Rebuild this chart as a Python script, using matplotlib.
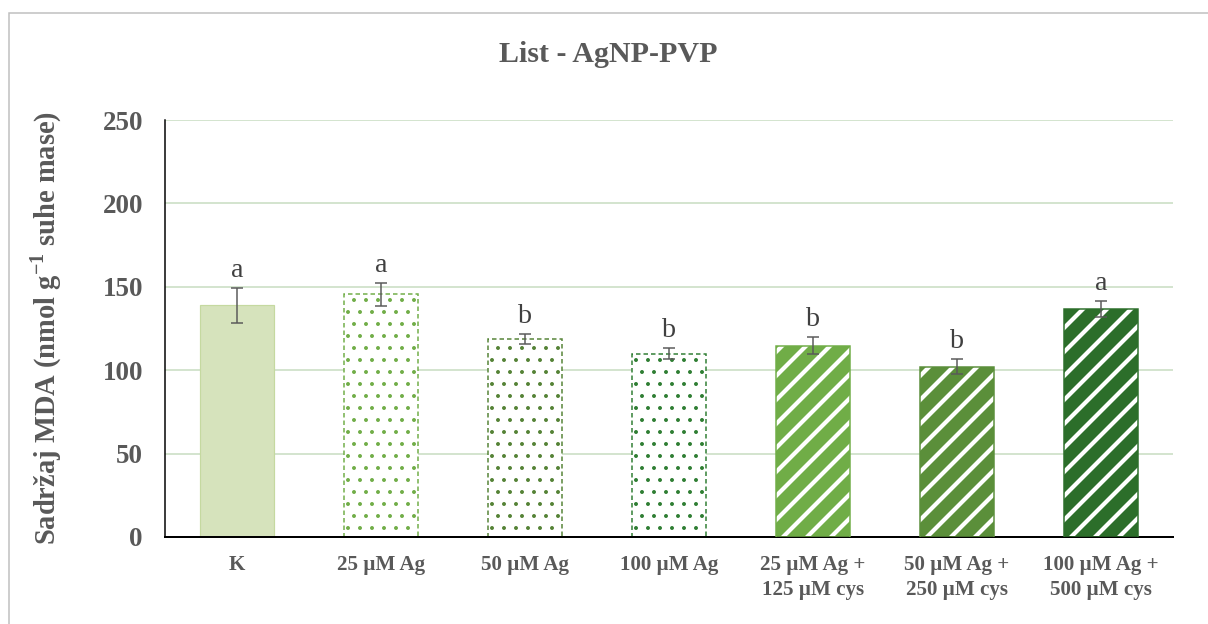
import matplotlib.pyplot as plt
from matplotlib.patches import Rectangle

plt.rcParams['font.family'] = ['Liberation Serif', 'DejaVu Serif']
plt.rcParams['mathtext.fontset'] = 'custom'
plt.rcParams['mathtext.rm'] = 'Liberation Serif'
plt.rcParams['mathtext.bf'] = 'Liberation Serif:bold'

# data
categories = ["K", "25 µM Ag", "50 µM Ag", "100 µM Ag",
              "25 µM Ag +\n125 µM cys", "50 µM Ag +\n250 µM cys",
              "100 µM Ag +\n500 µM cys"]
values = [139, 145.5, 118.5, 110, 114.8, 102, 136.7]
errors = [10.5, 7, 3, 3.5, 5, 4.5, 5]
letters = ["a", "a", "b", "b", "b", "b", "a"]

colors = ["#d6e3bc", "#70ad47", "#548235", "#2e7d32", "#70ad47", "#5b8f3a", "#2c6e2a"]
styles = ["solid", "dots", "dots", "dots", "stripes", "stripes", "stripes"]

fig = plt.figure(figsize=(1208 / 72, 624 / 72), dpi=72)
ax = fig.add_axes([165 / 1208, 87 / 624, 1008 / 1208, 417 / 624])

# outer chart border
fig.patches.append(Rectangle((9 / 1208, -0.1), 1.2, 1.1 - 13 / 624,
                             transform=fig.transFigure, fill=False,
                             edgecolor="#bfbfbf", linewidth=1.5))

x = list(range(len(categories)))
w = 0.51

for i in x:
    if styles[i] == "solid":
        ax.bar(i, values[i], w, color=colors[i], edgecolor="#c5d9a0", linewidth=1.2, zorder=2)
    elif styles[i] == "dots":
        plt.rcParams['hatch.linewidth'] = 1.5
        b = ax.bar(i, values[i], w, color="white", edgecolor=colors[i], hatch=".",
                   linestyle=(0, (3, 2)), linewidth=1.5, zorder=2)
        for p in b:
            if hasattr(p, "set_hatch_linewidth"):
                p.set_hatch_linewidth(1.5)
    else:
        plt.rcParams['hatch.linewidth'] = 4.2
        b = ax.bar(i, values[i], w, color=colors[i], edgecolor="white", hatch="/",
                   linewidth=0, zorder=2)
        for p in b:
            if hasattr(p, "set_hatch_linewidth"):
                p.set_hatch_linewidth(4.2)
        ax.bar(i, values[i], w, fill=False, edgecolor=colors[i], linewidth=1.5, zorder=3)

ax.errorbar(x, values, yerr=errors, fmt="none", ecolor="#595959", elinewidth=1.5,
            capsize=6, capthick=1.5, zorder=4)

for i in x:
    ax.text(i, values[i] + errors[i] + 3, letters[i], ha="center", va="bottom",
            fontsize=28, color="#404040")

ax.set_ylim(0, 250)
ax.set_xlim(-0.5, len(categories) - 0.5)
ax.set_yticks(range(0, 251, 50))
ax.yaxis.grid(True, color="#c6dcc0", linewidth=1.5, zorder=0)
ax.set_axisbelow(True)

ax.set_xticks(x)
ax.set_xticklabels(categories, fontsize=21, fontweight="bold", color="#595959",
                   linespacing=1.35)
for lab in ax.get_yticklabels():
    lab.set_fontsize(27)
    lab.set_fontweight("bold")
    lab.set_color("#595959")
ax.tick_params(axis="both", length=0)
ax.tick_params(axis="x", pad=18)
ax.tick_params(axis="y", pad=22)

for s in ["top", "right"]:
    ax.spines[s].set_visible(False)
ax.spines["left"].set_linewidth(1.5)
ax.spines["bottom"].set_linewidth(2)
ax.spines["left"].set_color("black")
ax.spines["bottom"].set_color("black")

ax.set_ylabel("Sadržaj MDA (nmol g$^{\\mathbf{-1}}$ suhe mase)", fontsize=28.5,
              fontweight="bold", color="#595959", labelpad=38)
fig.text(608 / 1208, 1 - 55 / 624, "List - AgNP-PVP", ha="center", va="center",
         fontsize=30, fontweight="bold", color="#595959")

plt.savefig("out.png", dpi=72)
plt.close()
